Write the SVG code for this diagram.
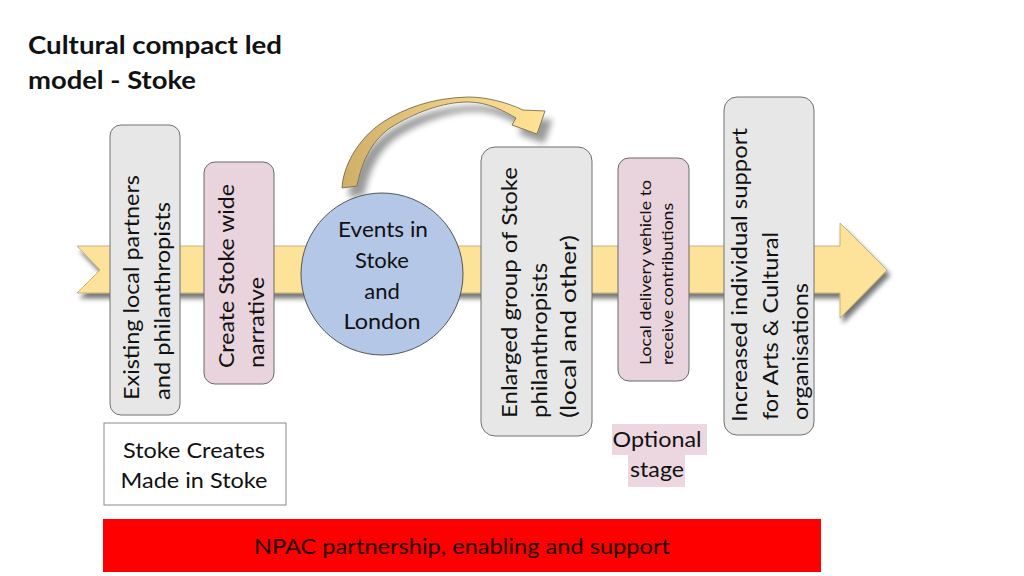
<svg xmlns="http://www.w3.org/2000/svg" width="1024" height="576" viewBox="0 0 1024 576">
  <defs>
    <filter id="shadow" x="-10%" y="-30%" width="120%" height="160%">
      <feGaussianBlur in="SourceAlpha" stdDeviation="2.5"/>
      <feOffset dx="3" dy="5" result="b"/>
      <feComponentTransfer><feFuncA type="linear" slope="0.55"/></feComponentTransfer>
      <feMerge><feMergeNode/><feMergeNode in="SourceGraphic"/></feMerge>
    </filter>
    <filter id="shadow2" x="-20%" y="-30%" width="140%" height="170%">
      <feGaussianBlur in="SourceAlpha" stdDeviation="3"/>
      <feOffset dx="7" dy="9" result="b"/>
      <feComponentTransfer><feFuncA type="linear" slope="0.4"/></feComponentTransfer>
      <feMerge><feMergeNode/><feMergeNode in="SourceGraphic"/></feMerge>
    </filter>
    <linearGradient id="curveGrad" x1="340" y1="0" x2="540" y2="0" gradientUnits="userSpaceOnUse">
      <stop offset="0" stop-color="#cfae68"/>
      <stop offset="0.5" stop-color="#e9cb82"/>
      <stop offset="1" stop-color="#ffe394"/>
    </linearGradient>
    <style>
      text { font-family: Lato, "Liberation Sans", sans-serif; fill: #111; }
      .title { font-weight: bold; font-size: 25px; }
      .lbl { font-size: 22px; }
      .small { font-size: 16px; }
      .gray { fill: #e8e7e7; stroke: #707070; stroke-width: 1; }
      .pink { fill: #e9d3dc; stroke: #6a6a6a; stroke-width: 1; }
      .mid { text-anchor: middle; }
    </style>
  </defs>

  <g id="title">
    <text class="title" x="28" y="54" textLength="254" lengthAdjust="spacingAndGlyphs">Cultural compact led</text>
    <text class="title" x="28" y="89" textLength="168" lengthAdjust="spacingAndGlyphs">model - Stoke</text>
  </g>

  <g id="connectors">
    <path id="timeline-arrow" d="M77,246 L840,246 L840,223 L887,270 L840,318 L840,293 L77,293 L100,270 Z" fill="#fde299" stroke="#b9a468" stroke-width="0.8" filter="url(#shadow)"/>
    <path id="curved-arrow" d="M342,188 C343,168 356,140 383,122 C405,108 432,98 468,97 C486,97 506,102 523,110 L545,111 L537,134 L512,125 L516,118 C504,111 488,102 468,102 C442,102 414,113 390,128 C370,142 361,165 357,186 Z" fill="url(#curveGrad)" stroke="#6a6040" stroke-width="0.8" filter="url(#shadow2)"/>
  </g>

  <g id="node-existing">
    <rect class="gray" x="110" y="125" width="70" height="290" rx="11"/>
    <text class="lbl" transform="translate(139,400) rotate(-90)" textLength="225" lengthAdjust="spacingAndGlyphs">Existing local partners</text>
    <text class="lbl" transform="translate(170,400) rotate(-90)" textLength="198" lengthAdjust="spacingAndGlyphs">and philanthropists</text>
  </g>

  <g id="node-narrative">
    <rect class="pink" x="204" y="162" width="70" height="222" rx="11"/>
    <text class="lbl" transform="translate(234,368) rotate(-90)" textLength="184" lengthAdjust="spacingAndGlyphs">Create Stoke wide</text>
    <text class="lbl" transform="translate(264,368) rotate(-90)" textLength="91" lengthAdjust="spacingAndGlyphs">narrative</text>
  </g>

  <g id="node-events">
    <circle cx="382" cy="274" r="81" fill="#b4c7e7" stroke="#555" stroke-width="1"/>
    <text class="lbl mid" x="383" y="237" textLength="90" lengthAdjust="spacingAndGlyphs">Events in</text>
    <text class="lbl mid" x="382" y="268">Stoke</text>
    <text class="lbl mid" x="382" y="299">and</text>
    <text class="lbl mid" x="382" y="329" textLength="77" lengthAdjust="spacingAndGlyphs">London</text>
  </g>

  <g id="node-enlarged">
    <rect class="gray" x="481" y="147" width="111" height="289" rx="14"/>
    <text class="lbl" transform="translate(517,418) rotate(-90)" textLength="251" lengthAdjust="spacingAndGlyphs">Enlarged group of  Stoke</text>
    <text class="lbl" transform="translate(547,418) rotate(-90)" textLength="155" lengthAdjust="spacingAndGlyphs">philanthropists</text>
    <text class="lbl" transform="translate(576,418) rotate(-90)" textLength="183" lengthAdjust="spacingAndGlyphs">(local and other)</text>
  </g>

  <g id="node-local-delivery">
    <rect class="pink" x="618" y="158" width="71" height="223" rx="11"/>
    <text class="small" transform="translate(651,365) rotate(-90)" textLength="185" lengthAdjust="spacingAndGlyphs">Local delivery vehicle to</text>
    <text class="small" transform="translate(673,365) rotate(-90)" textLength="162" lengthAdjust="spacingAndGlyphs">receive contributions</text>
  </g>

  <g id="node-increased">
    <rect class="gray" x="724" y="97" width="90" height="338" rx="13"/>
    <text class="lbl" transform="translate(747,422) rotate(-90)" textLength="294" lengthAdjust="spacingAndGlyphs">Increased individual support</text>
    <text class="lbl" transform="translate(778,420) rotate(-90)" textLength="188" lengthAdjust="spacingAndGlyphs">for Arts &amp; Cultural</text>
    <text class="lbl" transform="translate(808,420) rotate(-90)" textLength="137" lengthAdjust="spacingAndGlyphs">organisations</text>
  </g>

  <g id="node-stoke-creates">
    <rect x="104" y="423" width="182" height="82" fill="#fff" stroke="#8a8a8a" stroke-width="1"/>
    <text class="lbl mid" x="194" y="458" textLength="142" lengthAdjust="spacingAndGlyphs">Stoke Creates</text>
    <text class="lbl mid" x="194" y="488" textLength="147" lengthAdjust="spacingAndGlyphs">Made in Stoke</text>
  </g>

  <g id="node-optional">
    <rect x="612" y="424" width="95" height="31" fill="#ecd6df"/>
    <rect x="628" y="455" width="57" height="32" fill="#ecd6df"/>
    <text class="lbl mid" x="657" y="447" textLength="89" lengthAdjust="spacingAndGlyphs">Optional</text>
    <text class="lbl mid" x="657" y="477" textLength="54" lengthAdjust="spacingAndGlyphs">stage</text>
  </g>

  <g id="node-npac">
    <rect x="103" y="519" width="718" height="53" fill="#ff0000"/>
    <text class="lbl mid" x="462" y="554" textLength="416" lengthAdjust="spacingAndGlyphs" style="fill:#1a0000">NPAC partnership, enabling and support</text>
  </g>
</svg>
